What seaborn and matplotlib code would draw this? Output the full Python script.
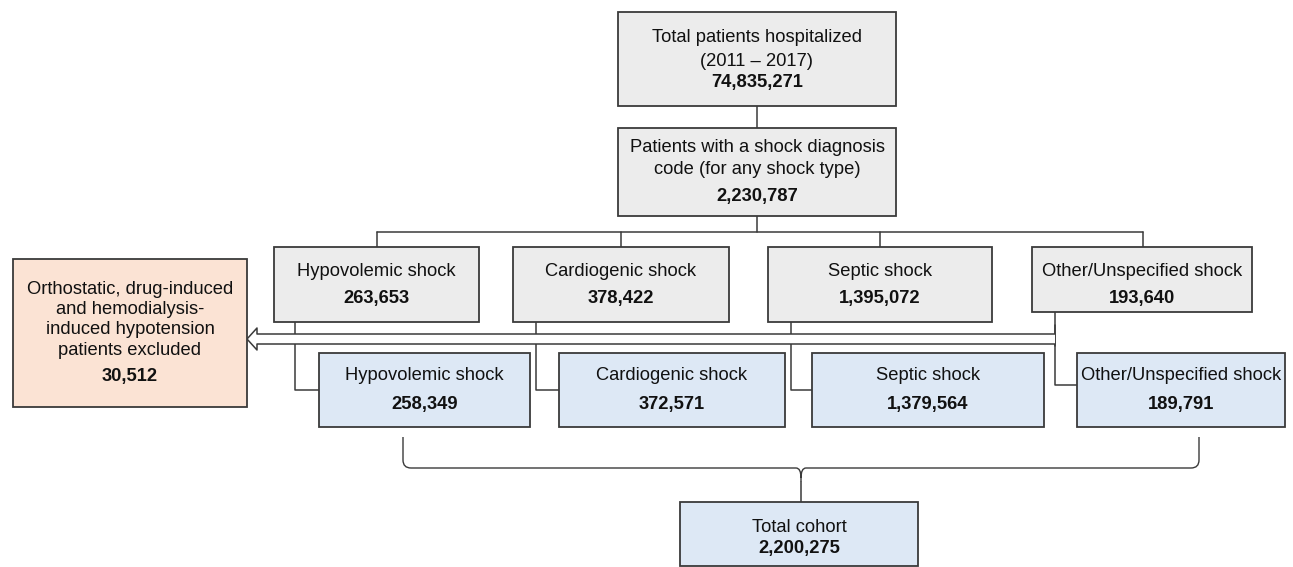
import matplotlib.pyplot as plt
import seaborn as sns
from matplotlib.patches import Rectangle, PathPatch
from matplotlib.path import Path

sns.set_style("white")
plt.rcParams['font.family'] = ['Liberation Sans', 'DejaVu Sans']

# flowchart content
top_label = ["Total patients hospitalized", "(2011 \u2013 2017)"]
top_n = "74,835,271"
shock_label = ["Patients with a shock diagnosis", "code (for any shock type)"]
shock_n = "2,230,787"
shock_types = ["Hypovolemic shock", "Cardiogenic shock", "Septic shock", "Other/Unspecified shock"]
before_n = ["263,653", "378,422", "1,395,072", "193,640"]
after_n = ["258,349", "372,571", "1,379,564", "189,791"]
excl_label = ["Orthostatic, drug-induced", "and hemodialysis-", "induced hypotension", "patients excluded"]
excl_n = "30,512"
cohort_label = "Total cohort"
cohort_n = "2,200,275"

gray = "#ececec"
blue = "#dde8f5"
peach = "#fbe3d4"
edge = "#3a3a3a"
fs = 13.2

# layout (pixel units)
row1_x = [(274, 479), (513, 729), (768, 992), (1032, 1252)]
row1_y = [(247, 322), (247, 322), (247, 322), (247, 312)]
row2_x = [(319, 530), (559, 785), (812, 1044), (1077, 1285)]
drop_x = [377, 621, 880, 1143]
side_x = [295, 536, 791, 1055]

fig = plt.figure(figsize=(12.93, 5.67), dpi=100)
ax = fig.add_axes([0, 0, 1, 1])
ax.set_xlim(0, 1293)
ax.set_ylim(567, 0)
ax.axis("off")


def box(x0, x1, y0, y1, color):
    ax.add_patch(Rectangle((x0, y0), x1 - x0, y1 - y0, facecolor=color,
                           edgecolor=edge, lw=1.3, zorder=3))


def line(xs, ys):
    ax.plot(xs, ys, color=edge, lw=1.1, zorder=1)


def txt(x, y, s, bold=False):
    ax.text(x, y, s, ha="center", va="center", fontsize=fs,
            fontweight="bold" if bold else "normal", color="#111111", zorder=4)


# top boxes
box(618, 896, 12, 106, gray)
txt(757, 37, top_label[0])
txt(757, 61, top_label[1])
txt(757, 83, top_n, bold=True)
line([757, 757], [106, 128])
box(618, 896, 128, 216, gray)
txt(757, 148, shock_label[0])
txt(757, 169, shock_label[1])
txt(757, 197, shock_n, bold=True)

# bus to shock types
line([757, 757], [216, 232])
line([drop_x[0], drop_x[-1]], [232, 232])
for dx in drop_x:
    line([dx, dx], [232, 247])

for i, name in enumerate(shock_types):
    (x0, x1), (y0, y1) = row1_x[i], row1_y[i]
    box(x0, x1, y0, y1, gray)
    cx = (x0 + x1) / 2
    txt(cx, 271, name)
    txt(cx, 298, before_n[i], bold=True)
    sx = side_x[i]
    yb = 385 if i == 3 else 390
    line([sx, sx, row2_x[i][0]], [y1, yb, yb])
    bx0, bx1 = row2_x[i]
    box(bx0, bx1, 353, 427, blue)
    bcx = (bx0 + bx1) / 2
    txt(bcx, 376, name)
    txt(bcx, 404, after_n[i], bold=True)

# exclusion arrow (hollow)
ax.add_patch(Rectangle((257, 334), 1055 - 257, 10, facecolor="white",
                       edgecolor="none", zorder=2))
ax.plot([1055, 257, 257, 247, 257, 257, 1055],
        [334, 334, 328, 339, 350, 344, 344], color=edge, lw=1.1, zorder=2.5)
line([1055, 1055], [325, 346])

box(13, 247, 259, 407, peach)
for k, s in enumerate(excl_label):
    txt(130, 289 + k * 20.5, s)
txt(130, 377, excl_n, bold=True)

# curly brace
verts = [(403, 437), (403, 460), (403, 468), (411, 468), (796, 468),
         (801, 468), (801, 478), (801, 482),
         (1199, 437), (1199, 460), (1199, 468), (1191, 468), (806, 468),
         (801, 468), (801, 478)]
codes = [Path.MOVETO, Path.LINETO, Path.CURVE3, Path.CURVE3, Path.LINETO,
         Path.CURVE3, Path.CURVE3, Path.LINETO,
         Path.MOVETO, Path.LINETO, Path.CURVE3, Path.CURVE3, Path.LINETO,
         Path.CURVE3, Path.CURVE3]
ax.add_patch(PathPatch(Path(verts, codes), facecolor="none", edgecolor=edge,
                       lw=1.0, zorder=1))
line([801, 801], [482, 502])

box(680, 918, 502, 566, blue)
txt(799, 527, cohort_label)
txt(799, 549, cohort_n, bold=True)

fig.savefig("out.png", dpi=100)
